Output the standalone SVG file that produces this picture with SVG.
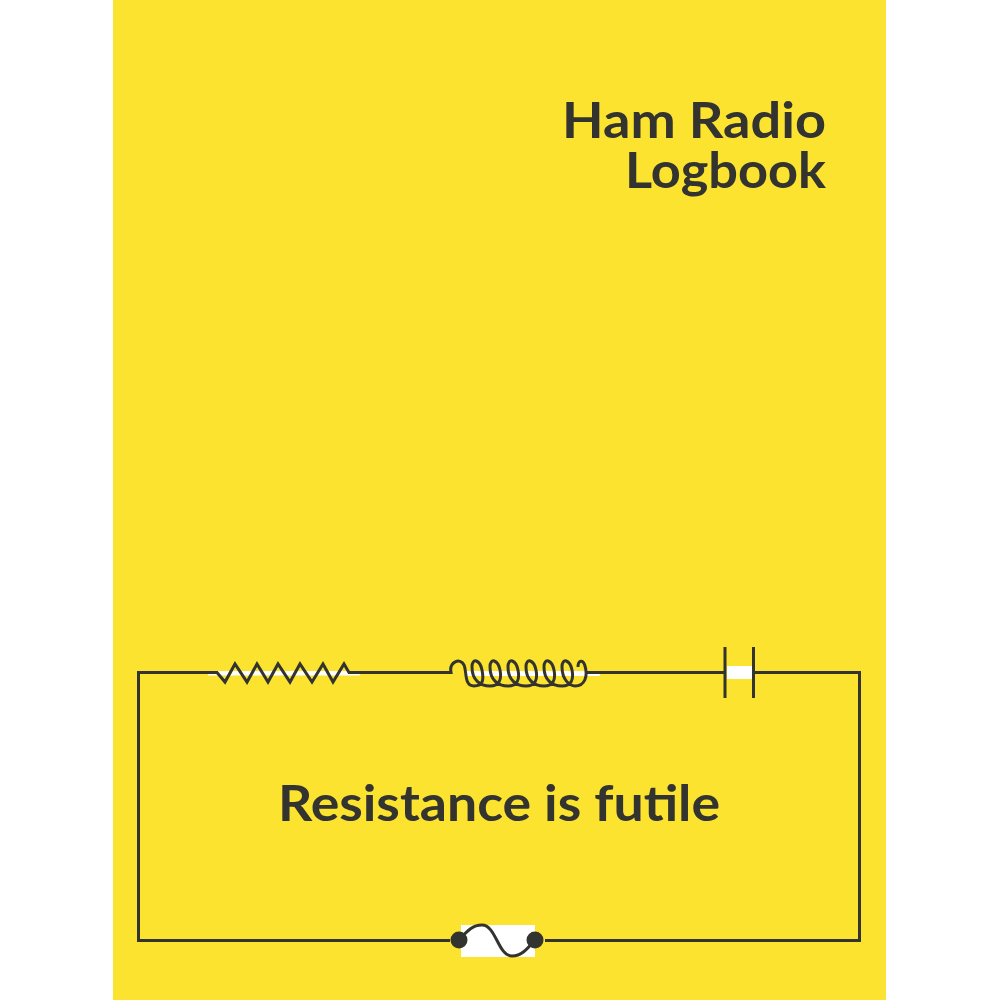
<svg xmlns="http://www.w3.org/2000/svg" width="1000" height="1000" viewBox="0 0 1000 1000">
<style>
.w{fill:none;stroke:#333330;stroke-width:3;stroke-linejoin:miter}
.h{fill:#fff}
.t{font-family:"Lato","Noto Sans",sans-serif;font-weight:700;fill:#333330}
</style>
<rect width="1000" height="1000" fill="#fff"/>
<rect id="cover" x="113" y="0" width="773" height="1000" fill="#fbe32f"/>
<g id="title">
<text class="t" x="826" y="138" font-size="50" text-anchor="end" textLength="264" lengthAdjust="spacingAndGlyphs">Ham Radio</text>
<text class="t" x="826" y="188" font-size="50" text-anchor="end" textLength="201" lengthAdjust="spacingAndGlyphs">Logbook</text>
</g>
<g id="connectors">
<path class="w" d="M208 672.500H138.500V940.500H450M545 940.500H859.500V672.500H755M724 672.500H585M450 672.500H360"/>
</g>
<g id="resistor">
<rect class="h" x="208" y="671" width="152" height="4.500"/>
<path class="w" d="M208 672.500H217L225 682L235 664L247 682L257 664L268 682L278 664L290 682L300 664L312 682L323 664L333 682L344 664L349 672.500H360" stroke-width="2.500"/>
</g>
<g id="inductor">
<rect class="h" x="466" y="671" width="134" height="5"/>
<path class="w" d="M450 672.500C450 660 465 656 466 665C467 675 465 686 474 686C484 686 482 660 474 660C466 660 466 686 474 686" style="display:none"/>
<path class="w" d="M430 672.500H451C449 662 460 657 464 665C467 672 464 686 474 686C483 686 484 680 482 670C480 660 472 657 472 667C472 680 480 686 490 686C499 686 502 680 500 670C498 660 490 657 490 667C490 680 498 686 508 686C517 686 520 680 518 670C516 660 508 657 508 667C508 680 516 686 526 686C535 686 538 680 536 670C534 660 526 657 526 667C526 680 534 686 544 686C553 686 556 680 554 670C552 660 544 657 544 667C544 680 552 686 562 686C571 686 574 680 572 670C570 660 562 657 562 667C562 680 570 686 575 686C585 686 588 676 585 666C583 659 578 660 578 667"/>
<path class="w" d="M585 672.500H600" style="stroke:#333330"/>
</g>
<g id="capacitor">
<rect class="h" x="727" y="666" width="25" height="13"/>
<path class="w" d="M725 647V698M753.500 647V698"/>
</g>
<g id="source">
<rect class="h" x="461" y="925" width="74" height="32"/>
<path class="w" d="M459 940C468 930 473 925 482 925C496 925 498 956 512 956C522 956 528 948 535 940"/>
<circle cx="459" cy="940" r="8.500" fill="#333330"/>
<circle cx="535" cy="940" r="8.500" fill="#333330"/>
</g>
<g id="tagline">
<text class="t" x="278" y="821" font-size="50" textLength="442" lengthAdjust="spacingAndGlyphs">Resistance is futile</text>
</g>
</svg>
